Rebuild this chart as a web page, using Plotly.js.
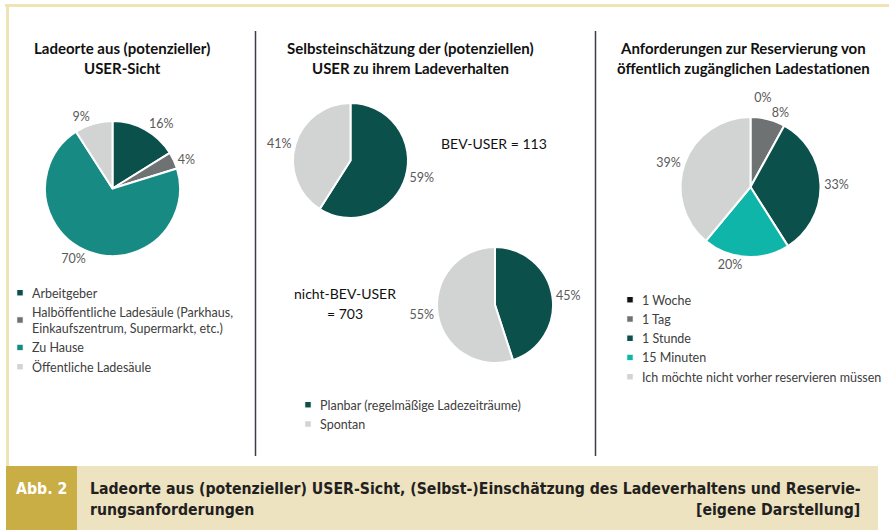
<!DOCTYPE html>
<html>
<head>
<meta charset="utf-8">
<script src="https://cdn.plot.ly/plotly-3.0.1.min.js"></script>
<style>
  html, body { margin: 0; padding: 0; background: #ffffff; }
  #chart { width: 889px; height: 530px; }
</style>
</head>
<body>
<div id="chart"></div>
<script>
// ---------- DATA ----------
const ladeorteLabels = ['Arbeitgeber', 'Halböffentliche Ladesäule (Parkhaus,<br>Einkaufszentrum, Supermarkt, etc.)', 'Zu Hause', 'Öffentliche Ladesäule'];
const ladeorteValues = [16, 4, 70, 9];

const verhaltenLabels = ['Planbar (regelmäßige Ladezeiträume)', 'Spontan'];
const bevValues = [59, 41];
const nichtBevValues = [45, 55];
const userGroups = ['BEV-USER', 'nicht-BEV-USER'];
const userCounts = [113, 703];

const reservLabels = ['1 Woche', '1 Tag', '1 Stunde', '15 Minuten', 'Ich möchte nicht vorher reservieren müssen'];
const reservValues = [0, 8, 33, 20, 39];

const panelTitles = [
  ['Ladeorte aus (potenzieller)', 'USER-Sicht'],
  ['Selbsteinschätzung der (potenziellen)', 'USER zu ihrem Ladeverhalten'],
  ['Anforderungen zur Reservierung von', 'öffentlich zugänglichen Ladestationen']
];
const figLabel = 'Abb. 2';
const captionLine1 = 'Ladeorte aus (potenzieller) USER-Sicht, (Selbst-)Einschätzung des Ladeverhaltens und Reservie-';
const captionLine2 = 'rungsanforderungen';
const captionSource = '[eigene Darstellung]';

// ---------- STYLE ----------
const W = 889, H = 530;
const X = px => px / W;
const Y = py => 1 - py / H;
const C_DARK = '#0b504b', C_GRAY = '#6e7273', C_TEAL = '#178a83', C_LIGHT = '#d2d3d3', C_TURQ = '#10b5aa', C_BLACK = '#111111';
const FONT = 'Lato, "Noto Sans", sans-serif';
const labelFont = {family: FONT, size: 12.5, color: '#595959'};

function dom(cx, cy, r) {
  return {x: [X(cx - r), X(cx + r)], y: [Y(cy + r), Y(cy - r)]};
}
function pie(labels, values, colors, d, legendId, showlegend) {
  return {
    type: 'pie', labels: labels, values: values, sort: false, direction: 'clockwise', rotation: 0,
    marker: {colors: colors, line: {color: '#ffffff', width: 2}},
    texttemplate: '%{value}%', textposition: 'outside', textfont: labelFont,
    domain: d, legend: legendId, showlegend: showlegend, hoverinfo: 'label+value'
  };
}

const data = [
  pie(ladeorteLabels, ladeorteValues, [C_DARK, C_GRAY, C_TEAL, C_LIGHT], dom(112.5, 188.5, 67.5), 'legend', true),
  pie(verhaltenLabels, bevValues, [C_DARK, C_LIGHT], dom(350.5, 160.5, 57.5), 'legend2', true),
  pie(verhaltenLabels, nichtBevValues, [C_DARK, C_LIGHT], dom(495, 305, 58), 'legend2', true),
  pie(reservLabels, reservValues, [C_BLACK, C_GRAY, C_DARK, C_TURQ, C_LIGHT], dom(750.5, 187, 70), 'legend3', true)
];

const legendFont = {family: FONT, size: 12.5, color: '#404040'};
function leg(xpx, ypx) {
  return {x: X(xpx), y: Y(ypx), xanchor: 'left', yanchor: 'top', xref: 'paper', yref: 'paper',
          font: legendFont, bgcolor: 'rgba(0,0,0,0)', borderwidth: 0, traceorder: 'normal', itemwidth: 30};
}

const titleFont = {family: FONT, size: 15, color: '#111111', weight: 'bold'};
const annotations = [];
const titleCenters = [122, 410, 743];
panelTitles.forEach((t, i) => {
  annotations.push({text: '<b>' + t[0] + '</b>', x: X(titleCenters[i]), y: Y(48), xref: 'paper', yref: 'paper', showarrow: false, xanchor: 'center', yanchor: 'middle', font: titleFont});
  annotations.push({text: '<b>' + t[1] + '</b>', x: X(titleCenters[i]), y: Y(67.5), xref: 'paper', yref: 'paper', showarrow: false, xanchor: 'center', yanchor: 'middle', font: titleFont});
});
const grpFont = {family: FONT, size: 14, color: '#111111'};
annotations.push({text: userGroups[0] + ' = ' + userCounts[0], x: X(494), y: Y(144), xref: 'paper', yref: 'paper', showarrow: false, xanchor: 'center', yanchor: 'middle', font: grpFont});
annotations.push({text: userGroups[1], x: X(345), y: Y(293), xref: 'paper', yref: 'paper', showarrow: false, xanchor: 'center', yanchor: 'middle', font: grpFont});
annotations.push({text: '= ' + userCounts[1], x: X(345), y: Y(313), xref: 'paper', yref: 'paper', showarrow: false, xanchor: 'center', yanchor: 'middle', font: grpFont});

const capFont = {family: '"Liberation Sans Narrow", "DejaVu Sans Condensed", sans-serif', size: 15.7, color: '#231f20', weight: 'bold'};
annotations.push({text: '<b>' + figLabel + '</b>', x: X(41), y: Y(488), xref: 'paper', yref: 'paper', showarrow: false, xanchor: 'center', yanchor: 'middle', font: Object.assign({}, capFont, {color: '#ffffff'})});
annotations.push({text: '<b>' + captionLine1 + '</b>', x: X(88), y: Y(488), xref: 'paper', yref: 'paper', showarrow: false, xanchor: 'left', yanchor: 'middle', font: capFont});
annotations.push({text: '<b>' + captionLine2 + '</b>', x: X(88), y: Y(509), xref: 'paper', yref: 'paper', showarrow: false, xanchor: 'left', yanchor: 'middle', font: capFont});
annotations.push({text: '<b>' + captionSource + '</b>', x: X(862), y: Y(509), xref: 'paper', yref: 'paper', showarrow: false, xanchor: 'right', yanchor: 'middle', font: capFont});

const shapes = [
  {type: 'rect', xref: 'paper', yref: 'paper', x0: X(6), x1: X(878), y0: Y(530), y1: Y(466), fillcolor: '#ede3c1', line: {width: 0}, layer: 'below'},
  {type: 'rect', xref: 'paper', yref: 'paper', x0: X(6), x1: X(77), y0: Y(530), y1: Y(466), fillcolor: '#c9ae45', line: {width: 0}, layer: 'below'},
  {type: 'line', xref: 'paper', yref: 'paper', x0: X(5), x1: X(889), y0: Y(5.5), y1: Y(5.5), line: {color: '#efe4b6', width: 3}},
  {type: 'line', xref: 'paper', yref: 'paper', x0: X(7.5), x1: X(7.5), y0: Y(4), y1: Y(466), line: {color: '#efe4b6', width: 3}},
  {type: 'line', xref: 'paper', yref: 'paper', x0: X(255.5), x1: X(255.5), y0: Y(31), y1: Y(456), line: {color: '#3b3e46', width: 1.5}},
  {type: 'line', xref: 'paper', yref: 'paper', x0: X(595.5), x1: X(595.5), y0: Y(31), y1: Y(456), line: {color: '#3b3e46', width: 1.5}}
];

const layout = {
  width: W, height: H,
  margin: {l: 0, r: 0, t: 0, b: 0, autoexpand: false},
  paper_bgcolor: '#ffffff', plot_bgcolor: '#ffffff',
  font: {family: FONT},
  legend: leg(-8, 278),
  legend2: leg(280, 390),
  legend3: leg(602, 285),
  annotations: annotations,
  shapes: shapes
};

Plotly.newPlot('chart', data, layout, {displayModeBar: false, staticPlot: true}).then(() => {
  document.querySelectorAll('.legendpoints path.legendpie').forEach(p => {
    p.setAttribute('transform', 'translate(28,0) scale(0.55)');
  });
  document.querySelectorAll('path.textline').forEach(p => { p.style.display = 'none'; });
});
</script>
</body>
</html>
